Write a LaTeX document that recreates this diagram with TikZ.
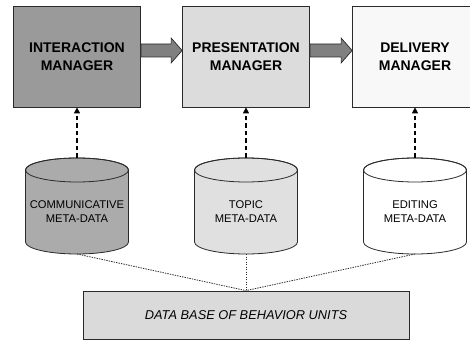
\documentclass[tikz,border=0pt]{standalone}
\usepackage{fontspec}
\setmainfont{Liberation Sans}
\usetikzlibrary{calc,arrows.meta}

\definecolor{edge}{HTML}{2A2A2A}
\definecolor{boxA}{HTML}{9A9A9A}
\definecolor{boxB}{HTML}{DCDCDC}
\definecolor{boxC}{HTML}{F8F8F8}
\definecolor{cylA}{HTML}{ABABAB}
\definecolor{cylB}{HTML}{E0E0E0}
\definecolor{cylC}{HTML}{FFFFFF}
\definecolor{dbfill}{HTML}{DADADA}
\definecolor{flowfill}{HTML}{808080}

% cylinder body: centre x, fill colour
\newcommand\cylbody[2]{%
  \filldraw[cylline, fill=#2] (#1-51.5,170) -- (#1-51.5,98)
    arc[start angle=180, end angle=360, x radius=51.5, y radius=12]
    -- (#1+51.5,170)
    arc[start angle=0, end angle=180, x radius=51.5, y radius=12] -- cycle;
  \draw[cylline] (#1,170) ellipse[x radius=51.5, y radius=12];}

% thick block arrow between two anchors
\newcommand\flowarrow[2]{%
  \filldraw[flow] ($(#1)+(0,-6.5)$) -- ($(#2)+(-11,-6.5)$) -- ($(#2)+(-11,-12.5)$)
    -- (#2) -- ($(#2)+(-11,12.5)$) -- ($(#2)+(-11,6.5)$) -- ($(#1)+(0,6.5)$) -- cycle;}

\begin{document}
\begin{tikzpicture}[x=1pt, y=1pt,
  mgr/.style={draw=edge, line width=0.8pt, minimum width=127pt, minimum height=101pt,
    inner sep=0pt, align=center, font=\bfseries\fontsize{14}{18}\selectfont},
  cylline/.style={draw=edge, line width=0.8pt},
  cyltext/.style={inner sep=0pt, align=center, font=\fontsize{11.2}{14}\selectfont},
  flow/.style={draw=edge, line width=0.7pt, fill=flowfill},
  dasharrow/.style={line width=1.3pt, dash pattern=on 4.5pt off 3pt,
    -{Triangle[length=6pt, width=6pt]}},
  dotline/.style={draw=edge, line width=0.8pt, dash pattern=on 1.4pt off 1.1pt},
  dbbox/.style={draw=edge, line width=0.8pt, fill=dbfill, minimum width=326pt,
    minimum height=48pt, inner sep=0pt, font=\itshape\fontsize{12.8}{15}\selectfont}]

\useasboundingbox (0,0) rectangle (470,340);

% managers
\node[mgr, fill=boxA] (im) at (77,283.5) {INTERACTION\\MANAGER};
\node[mgr, fill=boxB] (pm) at (246,283.5) {PRESENTATION\\MANAGER};
\node[mgr, fill=boxC, minimum width=125pt] (dm) at (415,283.5) {DELIVERY\\MANAGER};

% flow between managers
\coordinate (f1s) at ($(im.east)+(0,6)$);
\coordinate (f1e) at ($(pm.west)+(0,6)$);
\coordinate (f2s) at ($(pm.east)+(0,6)$);
\coordinate (f2e) at ($(dm.west)+(0,6)$);
\flowarrow{f1s}{f1e}
\flowarrow{f2s}{f2e}

% meta-data stores
\cylbody{77}{cylA}
\cylbody{246}{cylB}
\cylbody{415}{cylC}
\node[cyltext] (c1) at (77,128.5) {COMMUNICATIVE\\META-DATA};
\node[cyltext] (c2) at (246,128.5) {TOPIC\\META-DATA};
\node[cyltext] (c3) at (415,128.5) {EDITING\\META-DATA};
\coordinate (c1t) at (77,182);
\coordinate (c2t) at (246,182);
\coordinate (c3t) at (415,182);
\coordinate (c1b) at (77,86);
\coordinate (c2b) at (246,86);
\coordinate (c3b) at (415,86);

% stores feed managers
\draw[dasharrow] (c1t) -- (im.south);
\draw[dasharrow] (c2t) -- (pm.south);
\draw[dasharrow] (c3t) -- (dm.south);

% behaviour unit data base
\node[dbbox] (db) at (246,25) {DATA BASE OF BEHAVIOR UNITS};
\draw[dotline] (c1b) -- (db.north);
\draw[dotline] (c2b) -- (db.north);
\draw[dotline] (c3b) -- (db.north);
\end{tikzpicture}
\end{document}
